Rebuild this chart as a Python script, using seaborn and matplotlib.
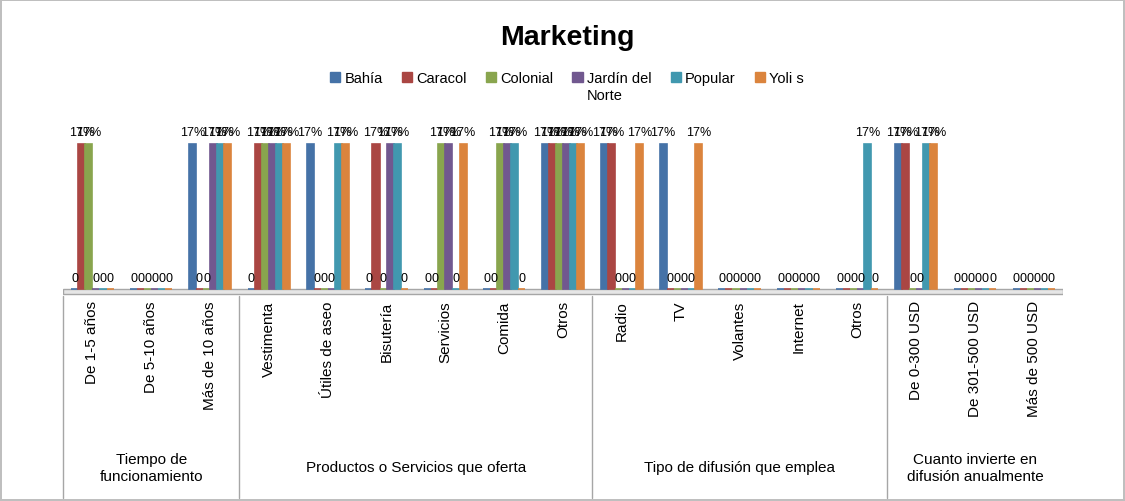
import matplotlib
matplotlib.use("Agg")
import matplotlib.pyplot as plt
import seaborn as sns
import pandas as pd
from matplotlib.patches import Patch

# ---- data ----
categories = ["De 1-5 años", "De 5-10 años", "Más de 10 años",
              "Vestimenta", "Útiles de aseo", "Bisutería", "Servicios", "Comida", "Otros",
              "Radio", "TV", "Volantes", "Internet", "Otros",
              "De 0-300 USD", "De 301-500 USD", "Más de 500 USD"]
groups = ["Tiempo de\nfuncionamiento", "Productos o Servicios que oferta",
          "Tipo de difusión que emplea", "Cuanto invierte en\ndifusión anualmente"]
group_sizes = [3, 6, 5, 3]
series = ["Bahía", "Caracol", "Colonial", "Jardín del Norte", "Popular", "Yoli s"]

bahia    = [0, 0, .17, 0, .17, 0, 0, 0, .17, .17, .17, 0, 0, 0, .17, 0, 0]
caracol  = [.17, 0, 0, .17, 0, .17, 0, 0, .17, .17, 0, 0, 0, 0, .17, 0, 0]
colonial = [.17, 0, 0, .17, 0, 0, .17, .17, .17, 0, 0, 0, 0, 0, 0, 0, 0]
jardin   = [0, 0, .17, .17, 0, .17, .17, .17, .17, 0, 0, 0, 0, 0, 0, 0, 0]
popular  = [0, 0, .17, .17, .17, .17, 0, .17, .17, 0, 0, 0, 0, .17, .17, 0, 0]
yolis    = [0, 0, .17, .17, .17, 0, .17, 0, .17, .17, .17, 0, 0, 0, .17, 0, 0]
values = [bahia, caracol, colonial, jardin, popular, yolis]

colors = ["#4572A7", "#AA4643", "#89A54E", "#71588F", "#4198AF", "#DB843D"]

rows = []
for s, vals in zip(series, values):
    for i, v in enumerate(vals):
        rows.append({"cat": i, "serie": s, "val": v})
df = pd.DataFrame(rows)

sns.set_style("white")
plt.rcParams['font.family'] = ['Liberation Sans', 'DejaVu Sans']
plt.rcParams['text.color'] = 'black'
plt.rcParams['xtick.color'] = 'black'

fig = plt.figure(figsize=(11.25, 5.02), dpi=100)
fig.patch.set_edgecolor("#BFBFBF")
fig.patch.set_linewidth(1.5)
ax = fig.add_axes([0.056, 0.408, 0.889, 0.355])

sns.barplot(data=df, x="cat", y="val", hue="serie", hue_order=series,
            palette=colors, width=0.72, ax=ax, saturation=1, legend=False,
            linewidth=1.2, err_kws={"linewidth": 0})
for cont, c in zip(ax.containers, colors):
    for p in cont:
        p.set_edgecolor(c)
    labs = ["{:.0%}".format(p.get_height()) if p.get_height() > 0 else "0" for p in cont]
    ax.bar_label(cont, labels=labs, padding=4, fontsize=9)

ax.set_ylim(-0.008, 0.2)
ax.set_xlim(-0.5, len(categories) - 0.5)
ax.axhspan(-0.006, 0, facecolor="#E6E6E6", edgecolor="#A6A6A6", linewidth=1, zorder=0)
for sp in ax.spines.values():
    sp.set_visible(False)
ax.set_yticks([])
ax.set_xlabel("")
ax.set_ylabel("")
ax.set_xticks(range(len(categories)))
ax.set_xticklabels(categories, rotation=90, fontsize=11, va="top")
ax.tick_params(axis="x", length=0, pad=3)

# group separators and labels
tr = ax.get_xaxis_transform()
start = -0.5
for g, n in zip(groups, group_sizes):
    ax.plot([start, start], [0, -1.13], color="#A6A6A6", lw=1, transform=tr, clip_on=False)
    ax.text(start + n / 2, -0.96, g, transform=tr, ha="center", va="center",
            fontsize=11, linespacing=1.3)
    start += n

fig.text(0.504, 0.925, "Marketing", ha="center", va="center", fontsize=20.5, fontweight="bold")

handles = [Patch(facecolor=c, edgecolor=c) for c in colors]
leg_labels = [s if s != "Jardín del Norte" else "Jardín del" for s in series]
leg = fig.legend(handles, leg_labels, loc="upper center", bbox_to_anchor=(0.504, 0.882),
                 ncol=6, frameon=False, fontsize=10.5, handlelength=0.7, handleheight=0.7,
                 handletextpad=0.3, columnspacing=1.3)
fig.canvas.draw()
r = fig.canvas.get_renderer()
jt = leg.get_texts()[3]
bb = jt.get_window_extent(r)
W, H = fig.bbox.width, fig.bbox.height
fig.text(bb.x0 / W, (bb.y0 - 3) / H, "Norte", ha="left", va="top", fontsize=10.5)

fig.savefig("out.png", dpi=100)
